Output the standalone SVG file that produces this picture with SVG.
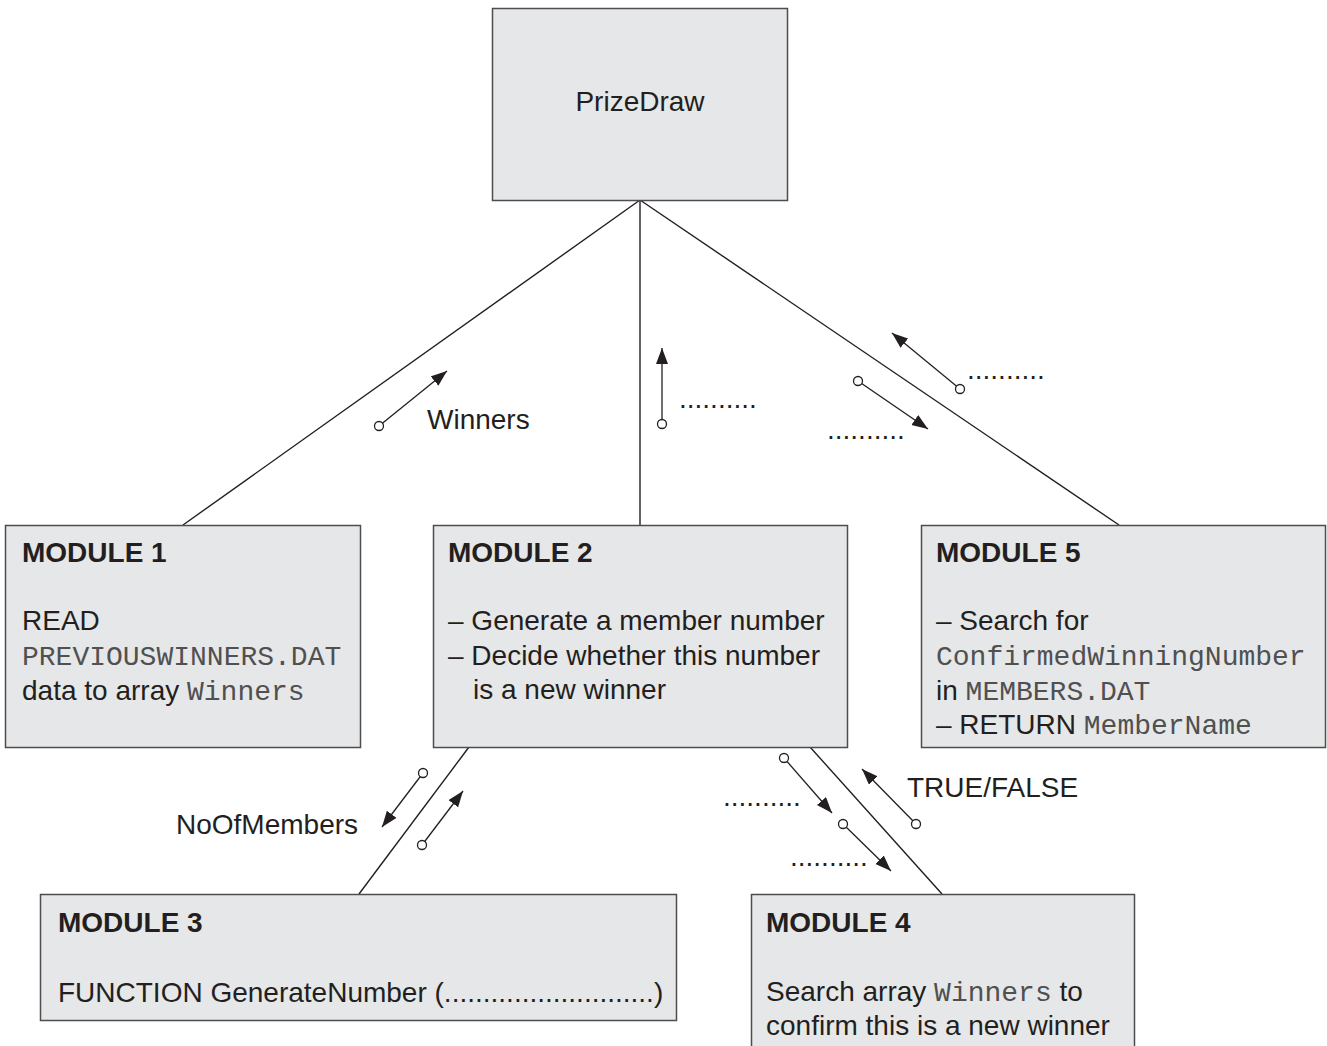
<svg xmlns="http://www.w3.org/2000/svg" width="1327" height="1046" viewBox="0 0 1327 1046">
<style>
.box{fill:#e6e7e8;stroke:#4d4d4f;stroke-width:1.5}
.t{font-family:"Liberation Sans",Arial,sans-serif;font-size:28px;fill:#231f20}
.b{font-weight:bold}
.m{font-family:"Liberation Mono","Courier New",monospace;font-size:28px;fill:#505050}
.ln{stroke:#231f20;stroke-width:1.4;fill:none}
.ar{stroke:#231f20;stroke-width:1.3;fill:none;marker-end:url(#ah)}
.c{fill:#fff;stroke:#231f20;stroke-width:1.3}
</style>
<defs>
<marker id="ah" markerUnits="userSpaceOnUse" markerWidth="17" markerHeight="13" refX="16" refY="6" orient="auto">
<path d="M0,0 L16,6 L0,12 z" fill="#231f20"/>
</marker>
</defs>
<rect width="1327" height="1046" fill="#fff"/>
<g id="connectors">
<line class="ln" x1="640" y1="200" x2="183" y2="525"/>
<line class="ln" x1="640" y1="200" x2="640" y2="525"/>
<line class="ln" x1="640" y1="200" x2="1119" y2="525"/>
<line class="ln" x1="469" y1="747" x2="359" y2="894"/>
<line class="ln" x1="810" y1="747" x2="942" y2="894"/>
<g id="flows">
<line class="ar" x1="379" y1="426" x2="447" y2="371"/><circle class="c" cx="379" cy="426" r="4.5"/>
<line class="ar" x1="662" y1="424" x2="662" y2="348"/><circle class="c" cx="662" cy="424" r="4.5"/>
<line class="ar" x1="960" y1="389" x2="892" y2="333"/><circle class="c" cx="960" cy="389" r="4.5"/>
<line class="ar" x1="858" y1="381" x2="928" y2="429"/><circle class="c" cx="858" cy="381" r="4.5"/>
<line class="ar" x1="423" y1="773" x2="382" y2="827"/><circle class="c" cx="423" cy="773" r="4.5"/>
<line class="ar" x1="422" y1="845" x2="463" y2="791"/><circle class="c" cx="422" cy="845" r="4.5"/>
<line class="ar" x1="784" y1="758" x2="832" y2="813"/><circle class="c" cx="784" cy="758" r="4.5"/>
<line class="ar" x1="843" y1="824" x2="891" y2="871"/><circle class="c" cx="843" cy="824" r="4.5"/>
<line class="ar" x1="916" y1="824" x2="862" y2="769"/><circle class="c" cx="916" cy="824" r="4.5"/>
</g>
<g id="labels">
<text class="t" x="427" y="429">Winners</text>
<text class="t" x="679" y="408">..........</text>
<text class="t" x="967" y="379">..........</text>
<text class="t" x="827" y="439">..........</text>
<text class="t" x="176" y="834">NoOfMembers</text>
<text class="t" x="723" y="806">..........</text>
<text class="t" x="790" y="866">..........</text>
<text class="t" x="907" y="797">TRUE/FALSE</text>
</g>
</g>
<g id="prizedraw">
<rect class="box" x="492.5" y="8.5" width="295" height="192"/>
<text class="t" x="640" y="111" text-anchor="middle">PrizeDraw</text>
</g>
<g id="module1">
<rect class="box" x="5.5" y="525.5" width="355" height="222"/>
<text class="t b" x="22" y="562">MODULE 1</text>
<text class="t" x="22" y="630">READ</text>
<text class="m" x="22" y="665">PREVIOUSWINNERS.DAT</text>
<text class="t" x="22" y="700">data to array <tspan class="m">Winners</tspan></text>
</g>
<g id="module2">
<rect class="box" x="433.5" y="525.5" width="414" height="222"/>
<text class="t b" x="448" y="562">MODULE 2</text>
<text class="t" x="448" y="630">– Generate a member number</text>
<text class="t" x="448" y="665">– Decide whether this number</text>
<text class="t" x="473" y="699">is a new winner</text>
</g>
<g id="module5">
<rect class="box" x="921.5" y="525.5" width="404" height="222"/>
<text class="t b" x="936" y="562">MODULE 5</text>
<text class="t" x="936" y="630">– Search for</text>
<text class="m" x="936" y="665">ConfirmedWinningNumber</text>
<text class="t" x="936" y="700">in <tspan class="m">MEMBERS.DAT</tspan></text>
<text class="t" x="936" y="734">– RETURN <tspan class="m">MemberName</tspan></text>
</g>
<g id="module3">
<rect class="box" x="40.5" y="894.5" width="636" height="126"/>
<text class="t b" x="58" y="932">MODULE 3</text>
<text class="t" x="58" y="1002">FUNCTION GenerateNumber (...........................)</text>
</g>
<g id="module4">
<rect class="box" x="751.5" y="894.5" width="383" height="170"/>
<text class="t b" x="766" y="932">MODULE 4</text>
<text class="t" x="766" y="1001">Search array <tspan class="m">Winners</tspan> to</text>
<text class="t" x="766" y="1035">confirm this is a new winner</text>
</g>
</svg>
